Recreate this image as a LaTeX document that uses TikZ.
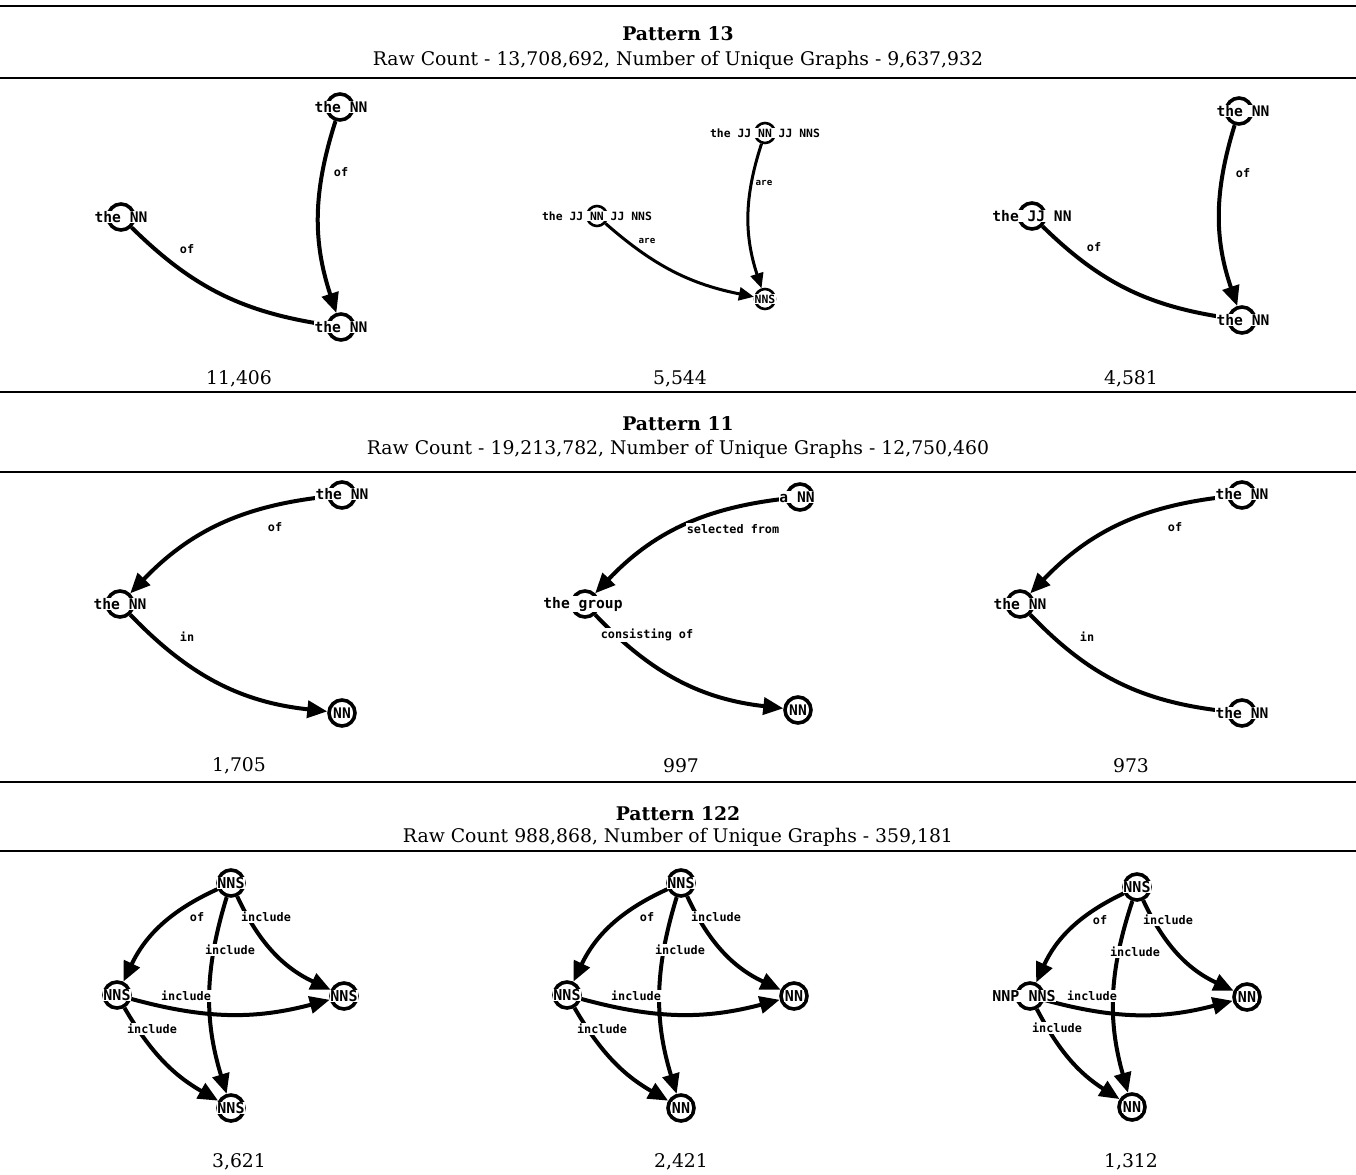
\documentclass[tikz,border=0pt]{standalone}
\usepackage{fontspec}
\setmainfont{DejaVu Serif}
\newfontfamily\graphfont{DejaVu Sans Mono}
\usetikzlibrary{arrows.meta}

\tikzset{
  vtx/.style={circle, draw, line width=1.8pt, minimum size=13pt, inner sep=0pt},
  word/.style={fill=white, inner sep=.3pt, font=\graphfont\bfseries\fontsize{7.3}{8}\selectfont},
  rel/.style={fill=white, inner sep=.6pt, font=\graphfont\bfseries\fontsize{5.9}{7}\selectfont},
  edge/.style={line width=2pt, -{Triangle[length=10pt,width=8.5pt]}},
  % tip of these ones is hidden under the word
  hedge/.style={line width=2pt},
  % second graph of pattern 13 is drawn smaller
  svtx/.style={vtx, line width=1.3pt, minimum size=10pt},
  sword/.style={word, font=\graphfont\bfseries\fontsize{5.7}{6.5}\selectfont},
  srel/.style={rel, font=\graphfont\bfseries\fontsize{4.6}{5.5}\selectfont},
  sedge/.style={line width=1.5pt, -{Triangle[length=7.5pt,width=6.5pt]}},
  bword/.style={word, font=\graphfont\bfseries\fontsize{7.5}{8}\selectfont},
  rule/.style={line width=1pt},
  head/.style={font=\bfseries\fontsize{9.4}{11}\selectfont},
  info/.style={font=\fontsize{9.4}{11}\selectfont}
}

\begin{document}
\begin{tikzpicture}[x=.5pt, y=-.5pt]
 \useasboundingbox (0,0) rectangle (1356,1174);

 % table rules
 \draw[rule] (0,6) -- (1356,6);
 \draw[rule] (0,78) -- (1356,78);
 \draw[rule] (0,392) -- (1356,392);
 \draw[rule] (0,472) -- (1356,472);
 \draw[rule] (0,782) -- (1356,782);
 \draw[rule] (0,851) -- (1356,851);

 % pattern 13
 \node[head] (h13) at (678,34) {Pattern 13};
 \node[info] (r13) at (678,60) {Raw Count - 13,708,692, Number of Unique Graphs - 9,637,932};

 \node[vtx] (a1) at (340,107) {};
 \node[vtx] (a2) at (121,217) {};
 \node[vtx] (a3) at (341,327) {};
 \draw[edge] (a1) to[bend right=18] (a3);
 \draw[hedge] (a2) to[bend right=18] (a3);
 \node[word] (a1w) at (341,107) {the NN};
 \node[word] (a2w) at (121,217) {the NN};
 \node[word] (a3w) at (341,327) {the NN};
 \node[rel] (a13) at (341,172) {of};
 \node[rel] (a23) at (187,249) {of};
 \node[info] (a) at (239,379) {11,406};

 \node[svtx] (b1) at (765,133) {};
 \node[svtx] (b2) at (597,216) {};
 \node[svtx] (b3) at (765,299) {};
 \draw[sedge] (b1) to[bend right=18] (b3);
 \draw[sedge] (b2) to[bend right=15] (b3);
 \node[sword] (b1w) at (765,133) {the JJ NN JJ NNS};
 \node[sword] (b2w) at (597,216) {the JJ NN JJ NNS};
 \node[sword] (b3w) at (765,299) {NNS};
 \node[srel] (b13) at (764,183) {are};
 \node[srel] (b23) at (647,241) {are};
 \node[info] (b) at (680,379) {5,544};

 \node[vtx] (c1) at (1239,111) {};
 \node[vtx] (c2) at (1032,216) {};
 \node[vtx] (c3) at (1242,320) {};
 \draw[edge] (c1) to[bend right=18] (c3);
 \draw[hedge] (c2) to[bend right=18] (c3);
 \node[word] (c1w) at (1243,111) {the NN};
 \node[word] (c2w) at (1032,216) {the JJ NN};
 \node[word] (c3w) at (1243,320) {the NN};
 \node[rel] (c13) at (1243,173) {of};
 \node[rel] (c23) at (1094,247) {of};
 \node[info] (c) at (1131,379) {4,581};

 % pattern 11
 \node[head] (h11) at (678,424) {Pattern 11};
 \node[info] (r11) at (678,449) {Raw Count - 19,213,782, Number of Unique Graphs - 12,750,460};

 \node[vtx] (d1) at (342,495) {};
 \node[vtx] (d2) at (120,604) {};
 \node[vtx] (d3) at (342,713) {};
 \draw[edge] (d1) to[bend right=20] (d2);
 \draw[edge] (d2) to[bend right=20] (d3);
 \node[word] (d1w) at (342,494) {the NN};
 \node[word] (d2w) at (120,604) {the NN};
 \node[word] (d3w) at (342,713) {NN};
 \node[rel] (d12) at (275,527) {of};
 \node[rel] (d23) at (187,637) {in};
 \node[info] (d) at (239,766) {1,705};

 \node[vtx] (e1) at (800,497) {};
 \node[vtx] (e2) at (585,604) {};
 \node[vtx] (e3) at (798,710) {};
 \draw[edge] (e1) to[bend right=20] (e2);
 \draw[edge] (e2) to[bend right=20] (e3);
 \node[word] (e1w) at (797,497) {a NN};
 \node[word] (e2w) at (583,604) {the group};
 \node[word] (e3w) at (798,710) {NN};
 \node[rel] (e12) at (733,529) {selected from};
 \node[rel] (e23) at (647,635) {consisting of};
 \node[info] (e) at (681,766) {997};

 \node[vtx] (f1) at (1242,495) {};
 \node[vtx] (f2) at (1020,604) {};
 \node[vtx] (f3) at (1242,713) {};
 \draw[edge] (f1) to[bend right=20] (f2);
 \draw[hedge] (f2) to[bend right=20] (f3);
 \node[word] (f1w) at (1242,494) {the NN};
 \node[word] (f2w) at (1020,604) {the NN};
 \node[word] (f3w) at (1242,713) {the NN};
 \node[rel] (f12) at (1175,527) {of};
 \node[rel] (f23) at (1087,637) {in};
 \node[info] (f) at (1131,766) {973};

 % pattern 122
 \node[head] (h122) at (678,814) {Pattern 122};
 \node[info] (r122) at (678,837) {Raw Count 988,868, Number of Unique Graphs - 359,181};

 \node[vtx] (gt) at (231,883) {};
 \node[vtx] (gl) at (117,995) {};
 \node[vtx] (gr) at (344,996) {};
 \node[vtx] (gb) at (231,1108) {};
 \draw[edge] (gt) to[bend right=20] (gl);
 \draw[edge] (gt) to[bend right=20] (gr);
 \draw[edge] (gt) to[bend right=17] (gb);
 \draw[edge] (gl) to[bend right=15] (gr);
 \draw[edge] (gl) to[bend right=15] (gb);
 \node[bword] (gtw) at (gt) {NNS};
 \node[bword] (glw) at (gl) {NNS};
 \node[bword] (grw) at (gr) {NNS};
 \node[bword] (gbw) at (gb) {NNS};
 \node[rel] (gtl) at (197,917) {of};
 \node[rel] (gtr) at (266,917) {include};
 \node[rel] (gtb) at (230,950) {include};
 \node[rel] (glr) at (186,996) {include};
 \node[rel] (glb) at (152,1029) {include};
 \node[info] (g) at (239,1162) {3,621};

 \node[vtx] (ht) at (681,883) {};
 \node[vtx] (hl) at (567,995) {};
 \node[vtx] (hr) at (794,996) {};
 \node[vtx] (hb) at (681,1108) {};
 \draw[edge] (ht) to[bend right=20] (hl);
 \draw[edge] (ht) to[bend right=20] (hr);
 \draw[edge] (ht) to[bend right=17] (hb);
 \draw[edge] (hl) to[bend right=15] (hr);
 \draw[edge] (hl) to[bend right=15] (hb);
 \node[bword] (htw) at (ht) {NNS};
 \node[bword] (hlw) at (hl) {NNS};
 \node[bword] (hrw) at (hr) {NN};
 \node[bword] (hbw) at (hb) {NN};
 \node[rel] (htl) at (647,917) {of};
 \node[rel] (htr) at (716,917) {include};
 \node[rel] (htb) at (680,950) {include};
 \node[rel] (hlr) at (636,996) {include};
 \node[rel] (hlb) at (602,1029) {include};
 \node[info] (h) at (681,1162) {2,421};

 \node[vtx] (it) at (1137,887) {};
 \node[vtx] (il) at (1030,996) {};
 \node[vtx] (ir) at (1247,997) {};
 \node[vtx] (ib) at (1132,1107) {};
 \draw[edge] (it) to[bend right=20] (il);
 \draw[edge] (it) to[bend right=20] (ir);
 \draw[edge] (it) to[bend right=17] (ib);
 \draw[edge] (il) to[bend right=15] (ir);
 \draw[edge] (il) to[bend right=15] (ib);
 \node[bword] (itw) at (it) {NNS};
 \node[bword] (ilw) at (1024,996) {NNP NNS};
 \node[bword] (irw) at (ir) {NN};
 \node[bword] (ibw) at (ib) {NN};
 \node[rel] (itl) at (1100,920) {of};
 \node[rel] (itr) at (1168,920) {include};
 \node[rel] (itb) at (1135,952) {include};
 \node[rel] (ilr) at (1092,996) {include};
 \node[rel] (ilb) at (1057,1028) {include};
 \node[info] (i) at (1131,1162) {1,312};
\end{tikzpicture}
\end{document}
